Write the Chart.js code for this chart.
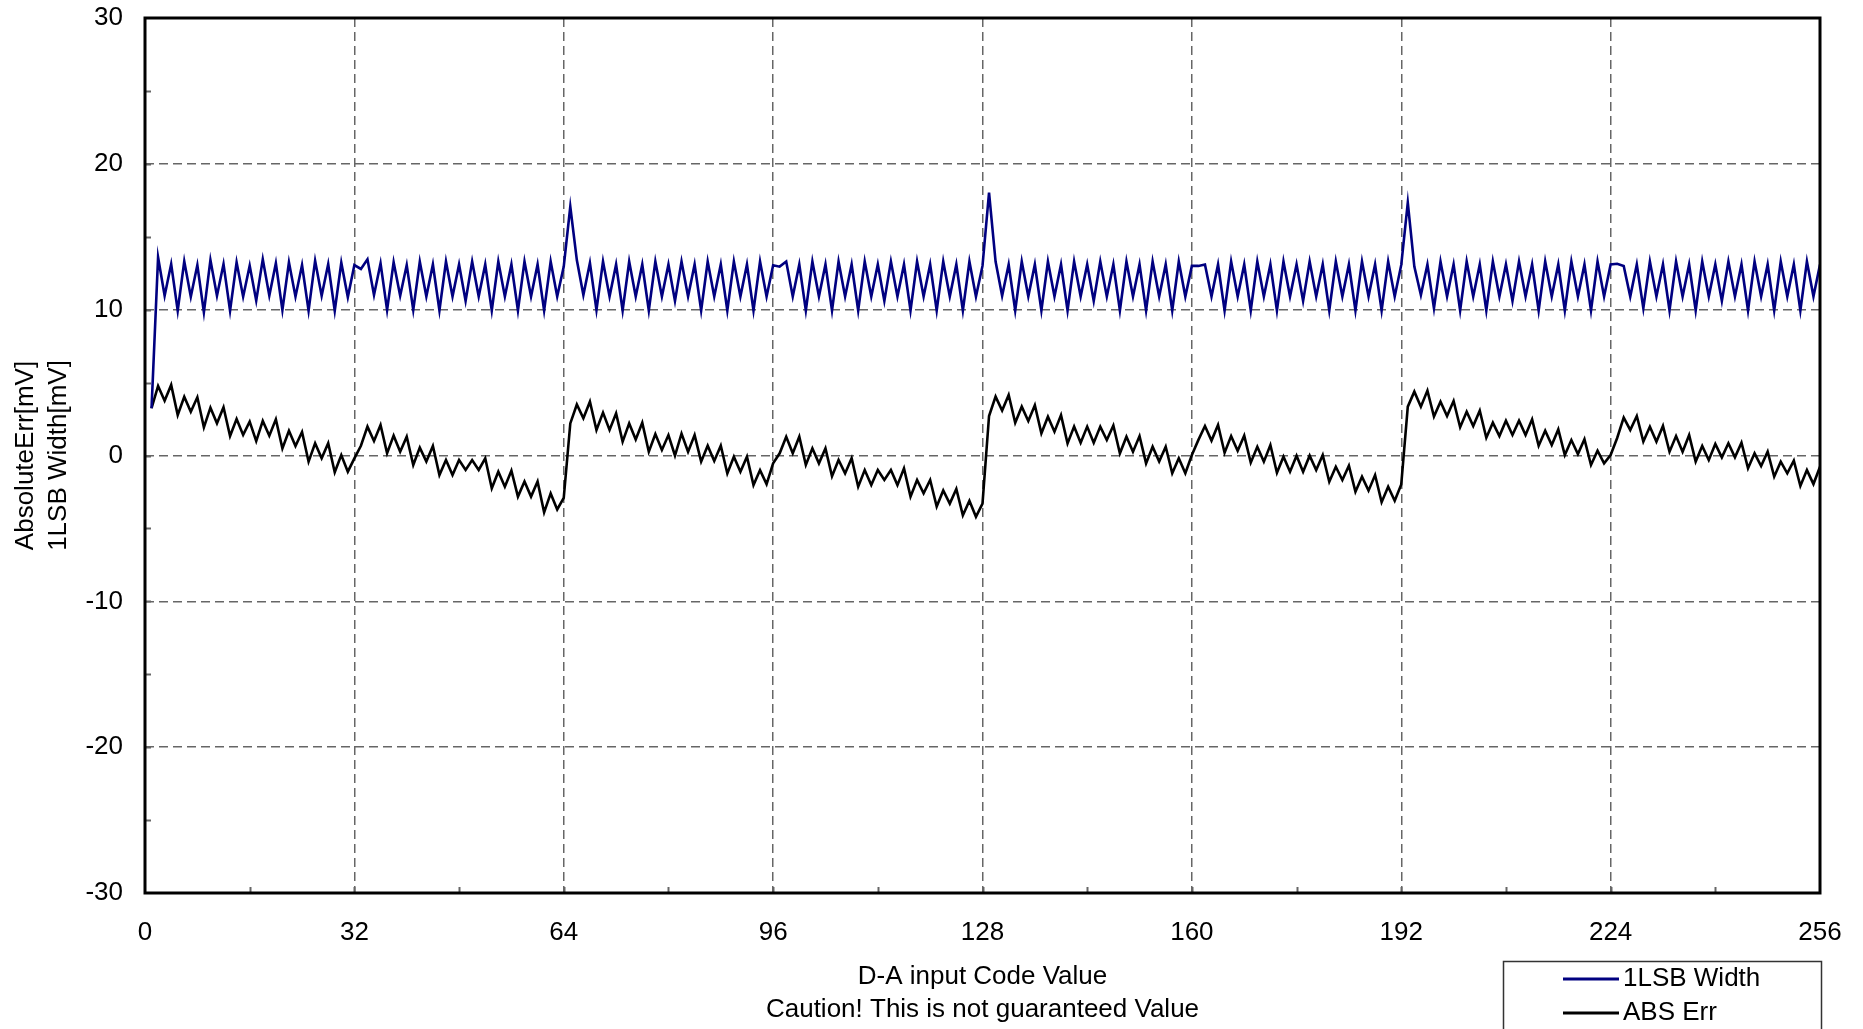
<!DOCTYPE html>
<html>
<head>
<meta charset="utf-8">
<title>D-A Converter Error</title>
<script src="https://cdn.jsdelivr.net/npm/chart.js@4.4.0/dist/chart.umd.min.js"></script>
<style>
  html, body { margin: 0; padding: 0; background: #fff; }
  #wrap { width: 1863px; height: 1029px; position: relative; }
</style>
</head>
<body>
<div id="wrap"><canvas id="dacChart"></canvas></div>
<script>
// D-A converter: 1LSB width and absolute error per input code

const xTitle = ['D-A input Code Value', 'Caution! This is not guaranteed Value'];
const yTitle = ['AbsoluteErr[mV]', '1LSB Width[mV]'];
const seriesNames = ['1LSB Width', 'ABS Err'];
const seriesColors = ['#000080', '#000000'];

const xTicks = [0, 32, 64, 96, 128, 160, 192, 224, 256];
const yTicks = [-30, -20, -10, 0, 10, 20, 30];

// input codes 1..256
const codes = Array.from({ length: 256 }, (_, i) => i + 1);

// 1LSB width [mV], codes 1..256 (16 per row)
const lsbWidth = [
    3.24, 13.59, 10.96, 13.13, 9.93, 13.32, 10.89, 13.06, 9.82, 13.41, 10.96, 13.13, 9.93, 13.25, 10.89, 13.02,
    10.62, 13.45, 10.96, 13.18, 9.98, 13.25, 10.89, 13.06, 9.93, 13.36, 10.96, 13.13, 9.93, 13.22, 10.85, 13.06,
    12.79, 13.45, 11.01, 13.18, 9.98, 13.25, 10.96, 13.06, 9.98, 13.29, 10.90, 13.10, 9.95, 13.30, 10.90, 13.10,
    10.60, 13.30, 10.90, 13.10, 9.95, 13.30, 10.90, 13.10, 9.95, 13.30, 10.90, 13.10, 9.95, 13.30, 10.90, 12.95,
    17.07, 13.40, 11.00, 13.20, 9.98, 13.30, 10.90, 13.10, 9.95, 13.30, 10.90, 13.10, 9.95, 13.30, 10.90, 13.10,
    10.60, 13.30, 10.90, 13.10, 9.95, 13.30, 10.90, 13.10, 9.95, 13.30, 10.90, 13.10, 9.95, 13.30, 10.90, 13.05,
    12.95, 13.30, 10.90, 13.10, 9.95, 13.30, 10.90, 13.10, 9.95, 13.30, 10.90, 13.10, 9.95, 13.30, 10.90, 13.10,
    10.60, 13.30, 10.90, 13.10, 9.95, 13.30, 10.90, 13.10, 9.95, 13.30, 10.90, 13.10, 9.95, 13.30, 10.90, 13.00,
    18.03, 13.30, 10.95, 13.10, 9.95, 13.30, 10.90, 13.10, 9.95, 13.30, 10.90, 13.10, 9.95, 13.30, 10.90, 13.10,
    10.60, 13.30, 10.90, 13.10, 9.95, 13.30, 10.90, 13.10, 9.95, 13.30, 10.90, 13.10, 9.95, 13.30, 10.90, 13.00,
    13.00, 13.10, 10.90, 13.10, 9.95, 13.30, 10.90, 13.10, 9.95, 13.30, 10.90, 13.10, 9.95, 13.30, 10.90, 13.10,
    10.60, 13.30, 10.90, 13.10, 9.95, 13.30, 10.90, 13.10, 9.95, 13.30, 10.90, 13.10, 9.95, 13.30, 10.90, 13.07,
    17.34, 12.95, 11.00, 13.10, 10.10, 13.30, 10.90, 13.10, 9.95, 13.30, 10.90, 13.10, 9.95, 13.30, 10.90, 13.10,
    10.60, 13.30, 10.90, 13.10, 9.95, 13.30, 10.90, 13.10, 9.95, 13.30, 10.90, 13.10, 9.95, 13.30, 10.90, 13.10,
    13.15, 13.00, 10.90, 13.10, 10.10, 13.30, 10.90, 13.10, 9.95, 13.30, 10.90, 13.10, 9.95, 13.30, 10.90, 13.10,
    10.60, 13.30, 10.90, 13.10, 9.95, 13.30, 10.90, 13.10, 9.95, 13.30, 10.90, 13.10, 9.95, 13.30, 10.90, 13.10
];

// absolute error [mV], codes 1..256 (16 per row)
const absErr = [
    3.24, 4.77, 3.76, 4.84, 2.78, 4.03, 3.00, 3.99, 1.93, 3.28, 2.21, 3.31, 1.34, 2.50, 1.41, 2.32,
    0.99, 2.37, 1.36, 2.48, 0.49, 1.70, 0.65, 1.61, -0.42, 0.84, -0.19, 0.84, -1.15, 0.03, -1.11, -0.20,
    0.67, 1.98, 0.99, 2.09, 0.15, 1.36, 0.26, 1.29, -0.65, 0.54, -0.42, 0.65, -1.34, -0.31, -1.34, -0.31,
    -0.99, -0.31, -0.99, -0.19, -2.25, -1.11, -2.14, -1.04, -2.82, -1.79, -2.82, -1.79, -3.90, -2.60, -3.70, -2.90,
    2.20, 3.50, 2.55, 3.69, 1.75, 2.94, 1.75, 2.89, 0.95, 2.20, 1.10, 2.25, 0.26, 1.47, 0.38, 1.40,
    0.00, 1.50, 0.26, 1.40, -0.42, 0.67, -0.38, 0.67, -1.23, -0.08, -1.11, -0.08, -2.03, -1.00, -1.96, -0.54,
    0.15, 1.29, 0.15, 1.29, -0.65, 0.49, -0.54, 0.49, -1.42, -0.31, -1.23, -0.19, -2.14, -1.00, -2.03, -1.00,
    -1.68, -1.00, -2.03, -0.88, -2.82, -1.68, -2.59, -1.68, -3.50, -2.40, -3.30, -2.30, -4.10, -3.10, -4.20, -3.30,
    2.71, 4.04, 3.08, 4.15, 2.25, 3.35, 2.37, 3.45, 1.52, 2.66, 1.63, 2.77, 0.83, 1.98, 0.87, 1.98,
    0.87, 1.98, 1.06, 2.06, 0.15, 1.29, 0.26, 1.33, -0.54, 0.60, -0.42, 0.60, -1.22, -0.19, -1.22, 0.03,
    1.07, 2.02, 1.02, 2.09, 0.19, 1.33, 0.33, 1.36, -0.49, 0.60, -0.42, 0.72, -1.18, -0.08, -1.11, -0.01,
    -1.11, -0.01, -1.00, 0.03, -1.80, -0.77, -1.68, -0.70, -2.48, -1.45, -2.41, -1.34, -3.20, -2.14, -3.10, -1.98,
    3.35, 4.38, 3.35, 4.45, 2.67, 3.69, 2.71, 3.74, 1.94, 3.00, 2.02, 3.07, 1.22, 2.25, 1.33, 2.39,
    1.41, 2.39, 1.41, 2.48, 0.67, 1.70, 0.72, 1.79, 0.03, 1.06, 0.10, 1.12, -0.65, 0.33, -0.54, 0.03,
    1.20, 2.60, 1.75, 2.71, 0.95, 1.97, 0.95, 2.03, 0.26, 1.33, 0.26, 1.40, -0.42, 0.65, -0.31, 0.79,
    -0.13, 0.84, -0.13, 0.88, -0.88, 0.15, -0.72, 0.26, -1.45, -0.42, -1.22, -0.35, -2.09, -1.00, -1.96, -0.77
];

const FONT = { family: "'Liberation Sans', Arial, sans-serif", size: 26, lineHeight: 1.27 };

/**
 * Frame, inward ticks and the legend box below the plot
 */
const framePlugin = {
    id: 'frame',
    afterDatasetsDraw(chart) {
        const { ctx, chartArea: a, scales } = chart;
        ctx.save();
        // small inward ticks
        ctx.strokeStyle = '#666';
        ctx.lineWidth = 2;
        ctx.beginPath();
        for (let v = -25; v <= 25; v += 5) {
            const y = Math.round(scales.y.getPixelForValue(v)) + 0.5;
            ctx.moveTo(a.left, y);
            ctx.lineTo(a.left + 6, y);
        }
        for (let c = 16; c < 256; c += 16) {
            const x = Math.round(scales.x.getPixelForValue(c)) + 0.5;
            ctx.moveTo(x, a.bottom);
            ctx.lineTo(x, a.bottom - 6);
        }
        ctx.stroke();
        // plot frame
        ctx.strokeStyle = '#000';
        ctx.lineWidth = 3;
        ctx.strokeRect(a.left, a.top, a.right - a.left, a.bottom - a.top);
        ctx.restore();
    },
    afterDraw(chart) {
        const { ctx } = chart;
        const box = { x: 1503, y: 961, w: 318, h: 100 };
        ctx.save();
        ctx.strokeStyle = '#333';
        ctx.lineWidth = 1.5;
        ctx.strokeRect(box.x + 0.5, box.y + 0.5, box.w, box.h);
        ctx.font = `${FONT.size}px ${FONT.family}`;
        ctx.textBaseline = 'middle';
        ctx.textAlign = 'left';
        chart.data.datasets.forEach((ds, i) => {
            const y = 979 + i * 34;
            ctx.strokeStyle = ds.borderColor;
            ctx.lineWidth = 3;
            ctx.beginPath();
            ctx.moveTo(1563, y);
            ctx.lineTo(1619, y);
            ctx.stroke();
            ctx.fillStyle = '#000';
            ctx.fillText(ds.label, 1623, y);
        });
        ctx.restore();
    }
};

function buildChart() {
    const ctx = document.getElementById('dacChart');

    const gridOpts = {
        color: '#666',
        lineWidth: 1.5,
        drawTicks: false
    };

    new Chart(ctx, {
        type: 'line',
        data: {
            datasets: [
                {
                    label: seriesNames[0],
                    data: codes.map((c, i) => ({ x: c, y: lsbWidth[i] })),
                    borderColor: seriesColors[0],
                    borderWidth: 2.6,
                    pointRadius: 0,
                    tension: 0,
                    fill: false
                },
                {
                    label: seriesNames[1],
                    data: codes.map((c, i) => ({ x: c, y: absErr[i] })),
                    borderColor: seriesColors[1],
                    borderWidth: 2.6,
                    pointRadius: 0,
                    tension: 0,
                    fill: false
                }
            ]
        },
        options: {
            responsive: true,
            maintainAspectRatio: false,
            animation: false,
            layout: {
                padding: { top: 18, right: 43, bottom: 0, left: 0 }
            },
            plugins: {
                legend: { display: false },
                tooltip: { enabled: false }
            },
            scales: {
                x: {
                    type: 'linear',
                    min: 0,
                    max: 256,
                    afterFit: scale => {
                        scale.height = 136;
                        scale.paddingLeft = 0;
                        scale.paddingRight = 0;
                    },
                    afterBuildTicks: scale => { scale.ticks = xTicks.map(v => ({ value: v })); },
                    ticks: { color: '#000', font: FONT, padding: 23, maxRotation: 0, autoSkip: false },
                    grid: gridOpts,
                    border: { display: false, dash: [9, 5] },
                    title: {
                        display: true,
                        text: xTitle,
                        color: '#000',
                        font: FONT,
                        padding: { top: 0, bottom: 3 }
                    }
                },
                y: {
                    min: -30,
                    max: 30,
                    afterFit: scale => {
                        scale.width = 145;
                        scale.paddingTop = 0;
                        scale.paddingBottom = 0;
                    },
                    afterBuildTicks: scale => { scale.ticks = yTicks.map(v => ({ value: v })); },
                    ticks: { color: '#000', font: FONT, padding: 22 },
                    grid: gridOpts,
                    border: { display: false, dash: [9, 5] },
                    title: {
                        display: true,
                        text: yTitle,
                        color: '#000',
                        font: FONT,
                        padding: { top: 9, bottom: 0 }
                    }
                }
            }
        },
        plugins: [framePlugin]
    });
}

document.addEventListener('DOMContentLoaded', buildChart);
</script>
</body>
</html>
